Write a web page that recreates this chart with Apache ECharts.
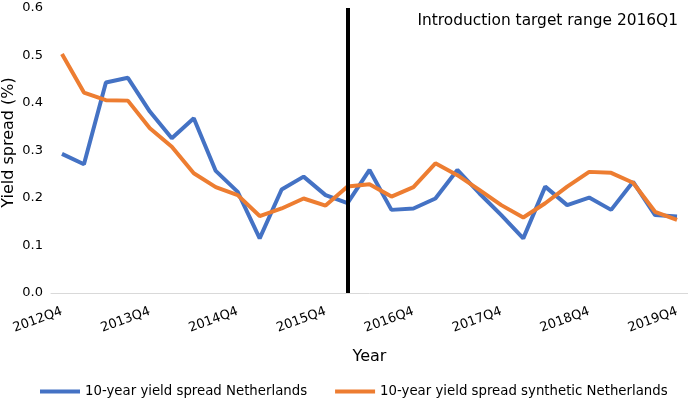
<!DOCTYPE html>
<html>
<head>
<meta charset="utf-8">
<script src="https://cdn.jsdelivr.net/npm/echarts@6/dist/echarts.min.js"></script>
<style>html,body{margin:0;padding:0;background:#fff;font-family:"DejaVu Sans"}#c{width:688px;height:406px}</style>
</head>
<body>
<div id="c"></div>
<script>
const categories = ['2012Q4','2013Q1','2013Q2','2013Q3','2013Q4','2014Q1','2014Q2','2014Q3','2014Q4','2015Q1','2015Q2','2015Q3','2015Q4','2016Q1','2016Q2','2016Q3','2016Q4','2017Q1','2017Q2','2017Q3','2017Q4','2018Q1','2018Q2','2018Q3','2018Q4','2019Q1','2019Q2','2019Q3','2019Q4'];
const spreadNL = [0.293,0.271,0.443,0.453,0.382,0.326,0.368,0.257,0.213,0.115,0.218,0.245,0.206,0.189,0.259,0.175,0.178,0.199,0.259,0.210,0.164,0.115,0.224,0.185,0.201,0.175,0.234,0.164,0.161];
const spreadSynth = [0.503,0.422,0.406,0.405,0.347,0.308,0.252,0.223,0.206,0.162,0.178,0.199,0.184,0.224,0.229,0.203,0.223,0.273,0.248,0.217,0.185,0.159,0.189,0.224,0.255,0.253,0.232,0.171,0.154];
const yTicks = [0,0.1,0.2,0.3,0.4,0.5,0.6];
const markerCategory = '2016Q1';
const annotation = 'Introduction target range 2016Q1';
const seriesNames = ['10-year yield spread Netherlands','10-year yield spread synthetic Netherlands'];

const font = 'DejaVu Sans';
const chart = echarts.init(document.getElementById('c'), null, {renderer:'canvas'});
chart.setOption({
  animation:false,
  textStyle:{fontFamily:font,color:'#000'},
  grid:{left:51,right:0,top:8,bottom:113,containLabel:false,outerBoundsMode:'none'},
  legend:{
    bottom:3,left:35,itemWidth:40,itemHeight:4,itemGap:28,
    icon:'rect',
    textStyle:{fontFamily:font,fontSize:13.3,color:'#000'},
    data:seriesNames
  },
  graphic:[{
    type:'text',right:10,top:13,
    style:{text:annotation,fontFamily:font,fontSize:15.4,fill:'#000'}
  }],
  xAxis:{
    type:'category',data:categories,boundaryGap:true,
    name:'Year',nameLocation:'middle',nameGap:56,nameMoveOverlap:false,
    nameTextStyle:{fontFamily:font,fontSize:16,color:'#000'},
    axisLine:{lineStyle:{color:'#d9d9d9',width:1}},
    axisTick:{show:false},
    axisLabel:{interval:3,rotate:20,margin:18,fontFamily:font,fontSize:13,color:'#000'}
  },
  yAxis:{
    type:'value',min:yTicks[0],max:yTicks[yTicks.length-1],interval:0.1,
    name:'Yield spread (%)',nameLocation:'middle',nameGap:34,nameMoveOverlap:false,
    nameTextStyle:{fontFamily:font,fontSize:16,color:'#000',padding:[0,0,0,16]},
    axisLine:{show:false},axisTick:{show:false},splitLine:{show:false},
    axisLabel:{margin:8,fontFamily:font,fontSize:13,color:'#000',formatter:v=>v.toFixed(1)}
  },
  series:[
    {name:seriesNames[0],type:'line',data:spreadNL,symbol:'none',
     lineStyle:{color:'#4472C4',width:4},itemStyle:{color:'#4472C4'},z:3,
     markLine:{silent:true,symbol:['none','none'],label:{show:false},
       lineStyle:{color:'#000',width:4,type:'solid'},
       data:[{xAxis:markerCategory}]}},
    {name:seriesNames[1],type:'line',data:spreadSynth,symbol:'none',
     lineStyle:{color:'#ED7D31',width:4},itemStyle:{color:'#ED7D31'},z:4}
  ]
});
</script>
</body>
</html>
